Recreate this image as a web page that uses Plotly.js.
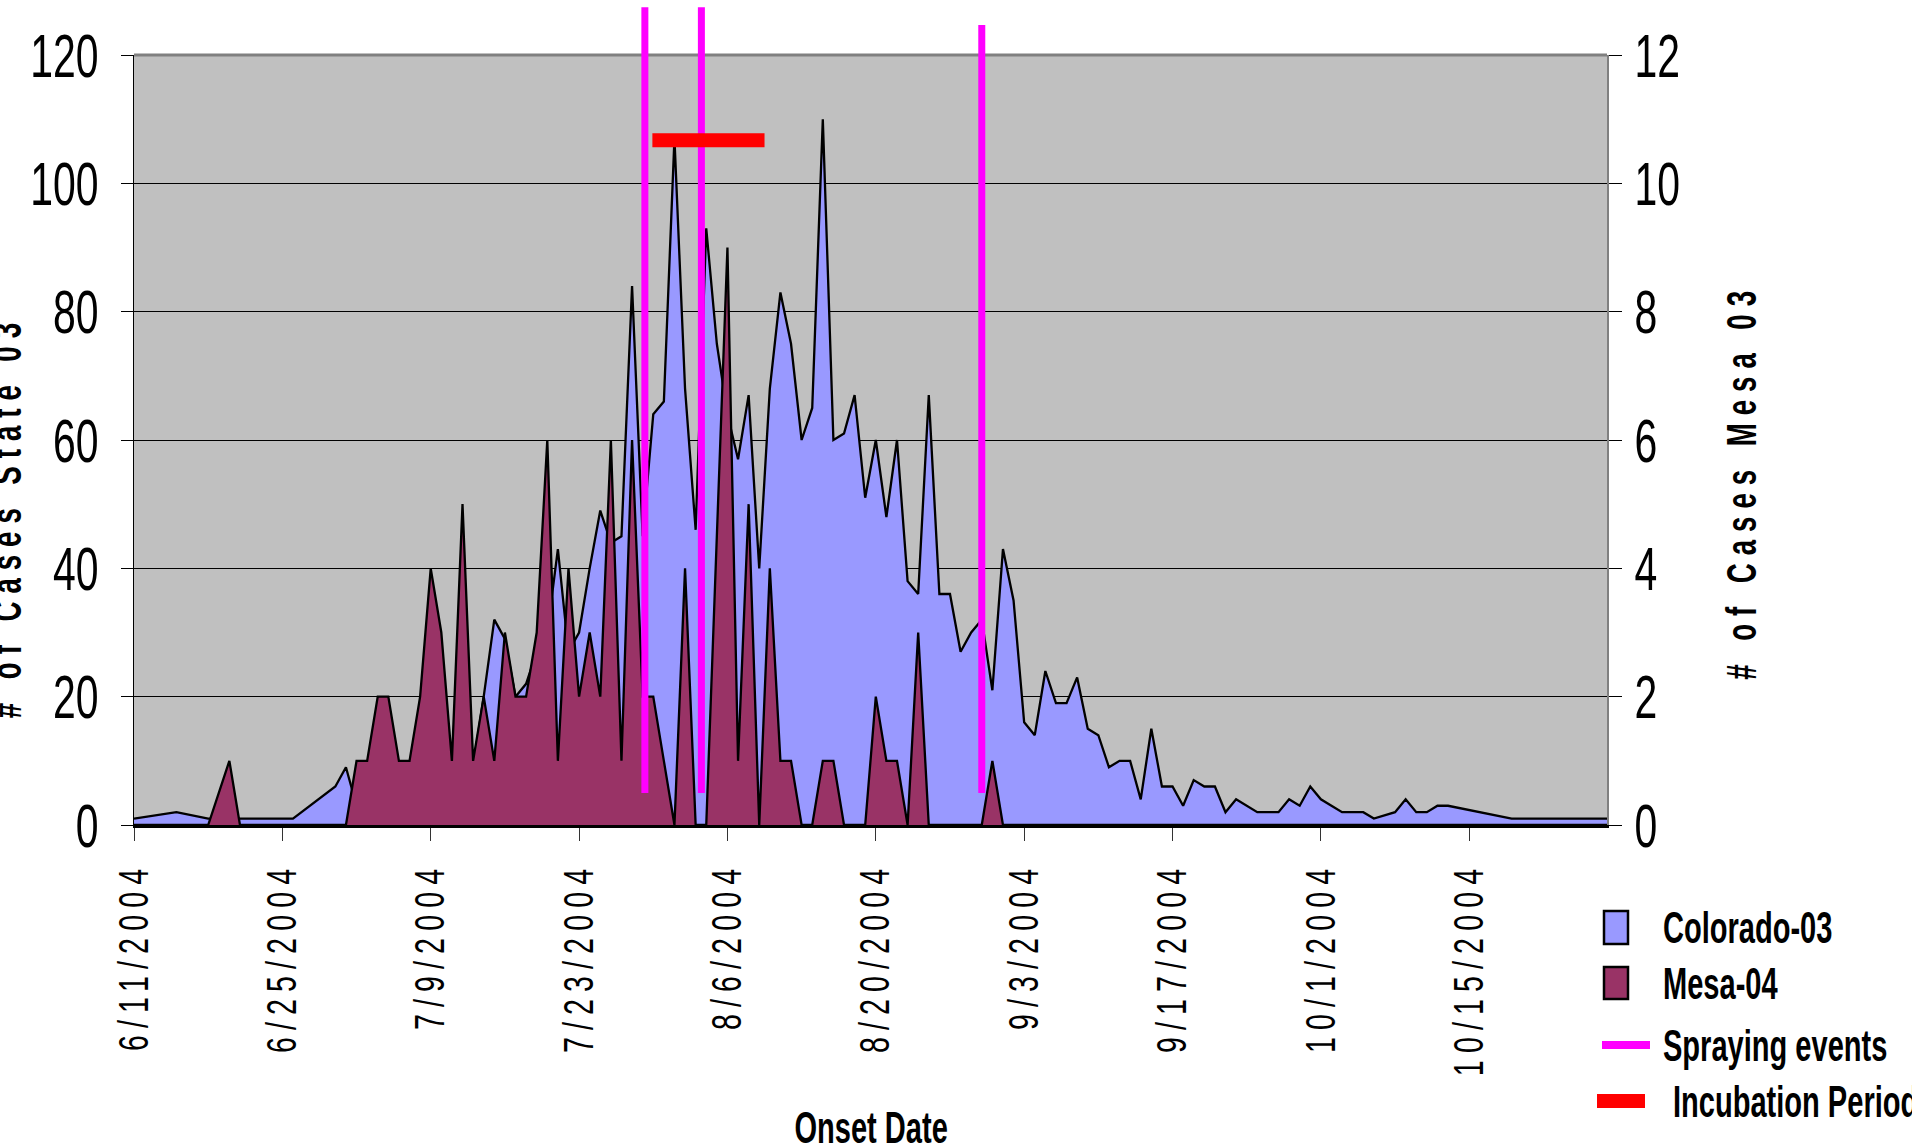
<!DOCTYPE html>
<html><head><meta charset="utf-8">
<script src="https://cdn.plot.ly/plotly-3.0.1.min.js"></script>
<style>
html,body{margin:0;padding:0;background:#fff;overflow:hidden;}
#chart{width:1912px;height:1146px;}
</style></head><body><div id="chart"></div>
<script>
// ---- data ----
const seriesNames = ['Colorado-03', 'Mesa-04', 'Spraying events', 'Incubation Period'];

const coloradoDates = [
 '2004-06-11','2004-06-15','2004-06-18','2004-06-21','2004-06-26','2004-06-30',
 '2004-07-01','2004-07-02','2004-07-03','2004-07-04','2004-07-05','2004-07-06','2004-07-07','2004-07-08','2004-07-09','2004-07-10',
 '2004-07-11','2004-07-12','2004-07-13','2004-07-14','2004-07-15','2004-07-16','2004-07-17','2004-07-18','2004-07-19','2004-07-20',
 '2004-07-21','2004-07-22','2004-07-23','2004-07-24','2004-07-25','2004-07-26','2004-07-27','2004-07-28','2004-07-29','2004-07-30','2004-07-31',
 '2004-08-01','2004-08-02','2004-08-03','2004-08-04','2004-08-05','2004-08-06','2004-08-07','2004-08-08','2004-08-09','2004-08-10',
 '2004-08-11','2004-08-12','2004-08-13','2004-08-14','2004-08-15','2004-08-16','2004-08-17','2004-08-18','2004-08-19','2004-08-20',
 '2004-08-21','2004-08-22','2004-08-23','2004-08-24','2004-08-25','2004-08-26','2004-08-27','2004-08-28','2004-08-29','2004-08-30','2004-08-31',
 '2004-09-01','2004-09-02','2004-09-03','2004-09-04','2004-09-05','2004-09-06','2004-09-07','2004-09-08','2004-09-09','2004-09-10',
 '2004-09-11','2004-09-12','2004-09-13','2004-09-14','2004-09-15','2004-09-16','2004-09-17','2004-09-18','2004-09-19','2004-09-20',
 '2004-09-21','2004-09-22','2004-09-23','2004-09-24','2004-09-25','2004-09-26','2004-09-27','2004-09-28','2004-09-29','2004-09-30',
 '2004-10-01','2004-10-02','2004-10-03','2004-10-04','2004-10-05','2004-10-06','2004-10-08','2004-10-09','2004-10-10','2004-10-11',
 '2004-10-12','2004-10-13','2004-10-19','2004-10-28'
];
const coloradoCases = [
 1,2,1,1,1,6,
 9,3,5,7,9,8,9,14,18,22,
 9,24,9,20,32,29,20,22,27,30,
 43,27,30,40,49,44,45,84,45,64,66,
 107,68,46,93,75,64,57,67,40,68,
 83,75,60,65,110,60,61,67,51,60,
 48,60,38,36,67,36,36,27,30,32,21,
 43,35,16,14,24,19,19,23,15,14,
 9,10,10,4,15,6,6,3,7,6,
 6,2,4,3,2,2,2,4,3,6,
 4,3,2,2,2,1,2,4,2,2,
 3,3,1,1
];

const mesaDates = [
 '2004-06-11','2004-06-18','2004-06-20','2004-06-21','2004-07-01',
 '2004-07-02','2004-07-03','2004-07-04','2004-07-05','2004-07-06','2004-07-07','2004-07-08','2004-07-09','2004-07-10',
 '2004-07-11','2004-07-12','2004-07-13','2004-07-14','2004-07-15','2004-07-16','2004-07-17','2004-07-18','2004-07-19','2004-07-20',
 '2004-07-21','2004-07-22','2004-07-23','2004-07-24','2004-07-25','2004-07-26','2004-07-27','2004-07-28','2004-07-29','2004-07-30','2004-07-31',
 '2004-08-01','2004-08-02','2004-08-03','2004-08-04','2004-08-06','2004-08-07','2004-08-08','2004-08-09','2004-08-10',
 '2004-08-11','2004-08-12','2004-08-13','2004-08-14','2004-08-15','2004-08-16','2004-08-17','2004-08-19','2004-08-20',
 '2004-08-21','2004-08-22','2004-08-23','2004-08-24','2004-08-25','2004-08-30','2004-08-31','2004-09-01','2004-10-28'
];
const mesaCases = [
 0,0,1,0,0,
 1,1,2,2,1,1,2,4,3,
 1,5,1,2,1,3,2,2,3,6,
 1,4,2,3,2,6,1,6,2,2,1,
 0,4,0,0,9,1,5,0,4,
 1,1,0,0,1,1,0,0,2,
 1,1,0,3,0,0,1,0,0
];

const sprayDates = ['2004-07-29 05:00', '2004-08-03 13:00', '2004-08-30 00:00'];
const sprayTops = [1.062, 1.062, 1.039];       // paper fraction where each drawn line ends
const sprayBottomValue = 5;                      // left-axis value where the lines stop
const incubationStart = '2004-07-29 22:00';
const incubationEnd = '2004-08-09 12:00';
const incubationLevel = 106.7;                   // left-axis level of the bar

const leftRange = [0, 120];
const rightRange = [0, 12];
const xRange = ['2004-06-11', '2004-10-28'];

// ---- layout helpers ----
const W = 1912, H = 1146;
const PL = 134, PR = 1607, PT = 55, PB = 825;
const fx = px => (px - PL) / (PR - PL);
const fy = py => (PB - py) / (PB - PT);

const SANS = "'Liberation Sans', Arial, sans-serif";
const LAV = '#9999FF', PUR = '#993366', MAG = '#FF00FF', RED = '#FF0000';

const traces = [
  {x: coloradoDates, y: coloradoCases, type: 'scatter', mode: 'lines', name: seriesNames[0],
   fill: 'tozeroy', fillcolor: LAV, line: {color: '#000', width: 2.3}, yaxis: 'y', hoverinfo: 'skip'},
  {x: mesaDates, y: mesaCases, type: 'scatter', mode: 'lines', name: seriesNames[1],
   fill: 'tozeroy', fillcolor: PUR, line: {color: '#000', width: 2.3}, yaxis: 'y2', hoverinfo: 'skip'}
];

const shapes = [
  {type: 'line', xref: 'paper', yref: 'paper', x0: 0, x1: 1, y0: 1, y1: 1,
   line: {color: '#808080', width: 3}, layer: 'above'}
];
sprayDates.forEach((d, i) => shapes.push({
  type: 'line', xref: 'x', yref: 'paper', x0: d, x1: d,
  y0: sprayBottomValue / leftRange[1], y1: sprayTops[i],
  line: {color: MAG, width: 7}, layer: 'above'
}));
shapes.push({type: 'line', xref: 'x', yref: 'y', x0: incubationStart, x1: incubationEnd,
  y0: incubationLevel, y1: incubationLevel, line: {color: RED, width: 14}, layer: 'above'});

// legend (drawn manually to match the original's boxes)
const legRows = [927, 983, 1045, 1101];
shapes.push({type: 'rect', xref: 'paper', yref: 'paper', x0: fx(1604), x1: fx(1628), y0: fy(944), y1: fy(911),
  fillcolor: LAV, line: {color: '#000', width: 2.5}});
shapes.push({type: 'rect', xref: 'paper', yref: 'paper', x0: fx(1604), x1: fx(1628), y0: fy(999), y1: fy(967),
  fillcolor: PUR, line: {color: '#000', width: 2.5}});
shapes.push({type: 'line', xref: 'paper', yref: 'paper', x0: fx(1602), x1: fx(1650), y0: fy(legRows[2]), y1: fy(legRows[2]),
  line: {color: MAG, width: 8}});
shapes.push({type: 'line', xref: 'paper', yref: 'paper', x0: fx(1597), x1: fx(1645), y0: fy(legRows[3]), y1: fy(legRows[3]),
  line: {color: RED, width: 14}});

const titleFont = {family: SANS, size: 42, color: '#000', weight: 'bold'};
const annotations = [
  {text: '# of Cases State 03', xref: 'paper', yref: 'paper', x: fx(6), y: fy(517), textangle: -90,
   showarrow: false, xanchor: 'center', yanchor: 'middle', font: titleFont},
  {text: '# of Cases Mesa 03', xref: 'paper', yref: 'paper', x: fx(1741), y: fy(482), textangle: -90,
   showarrow: false, xanchor: 'center', yanchor: 'middle', font: titleFont},
  {text: 'Onset Date', xref: 'paper', yref: 'paper', x: fx(871), y: fy(1127),
   showarrow: false, xanchor: 'center', yanchor: 'middle', font: {family: SANS, size: 44, color: '#000', weight: 'bold'}}
];
const legX = [1661, 1661, 1661, 1671];
seriesNames.forEach((n, i) => annotations.push({
  text: n, xref: 'paper', yref: 'paper', x: fx(legX[i]), y: fy(legRows[i]), align: 'left',
  showarrow: false, xanchor: 'left', yanchor: 'middle', font: {family: SANS, size: 44, color: '#000', weight: 'bold'}
}));

const tickFont = {family: SANS, size: 62, color: '#000'};
const layout = {
  width: W, height: H,
  margin: {l: PL, r: W - PR, t: PT, b: H - PB, pad: 0, autoexpand: false},
  paper_bgcolor: '#FFFFFF', plot_bgcolor: '#C0C0C0',
  showlegend: false,
  xaxis: {type: 'date', range: xRange, tick0: '2004-06-11', dtick: 14 * 86400000,
    tickformat: '%-m/%-d/%Y', tickangle: -90, ticks: 'outside', ticklen: 13, tickcolor: '#333', tickwidth: 1,
    showline: true, linecolor: '#000', linewidth: 3, showgrid: false, zeroline: false,
    tickfont: {family: SANS, size: 42, color: '#000'}, ticklabelstandoff: 4, fixedrange: true},
  yaxis: {range: leftRange, dtick: 20, ticks: 'outside', ticklen: 12, tickcolor: '#000', tickwidth: 1,
    showline: true, linecolor: '#000', linewidth: 1, showgrid: true, gridcolor: '#000', gridwidth: 1,
    zeroline: false, tickfont: tickFont, ticklabelstandoff: 10, fixedrange: true},
  yaxis2: {range: rightRange, dtick: 2, overlaying: 'y', side: 'right', ticks: 'outside', ticklen: 13,
    tickcolor: '#000', tickwidth: 1, showline: true, linecolor: '#808080', linewidth: 2, showgrid: false,
    zeroline: false, tickfont: tickFont, ticklabelstandoff: 0, fixedrange: true},
  shapes: shapes,
  annotations: annotations
};

// The original's lettering is a tall, condensed face: narrow each text run horizontally.
function squeeze(selector, factor, spacing) {
  document.querySelectorAll(selector).forEach(t => {
    if (spacing) t.style.letterSpacing = spacing + 'px';
    const L = t.getComputedTextLength();
    if (L > 0) {
      t.setAttribute('textLength', (L * factor).toFixed(2));
      t.setAttribute('lengthAdjust', 'spacingAndGlyphs');
    }
  });
}

Plotly.newPlot('chart', traces, layout, {staticPlot: true, displayModeBar: false}).then(() => {
  squeeze('g.ytick text', 0.66);
  squeeze('g.y2tick text', 0.66);
  squeeze('g.xtick text', 0.68, 10.5);
  squeeze('g.annotation[data-index="0"] text', 0.66, 12);
  squeeze('g.annotation[data-index="1"] text', 0.66, 12);
  for (let i = 2; i < 7; i++) squeeze('g.annotation[data-index="' + i + '"] text', 0.66);
});
</script></body></html>
